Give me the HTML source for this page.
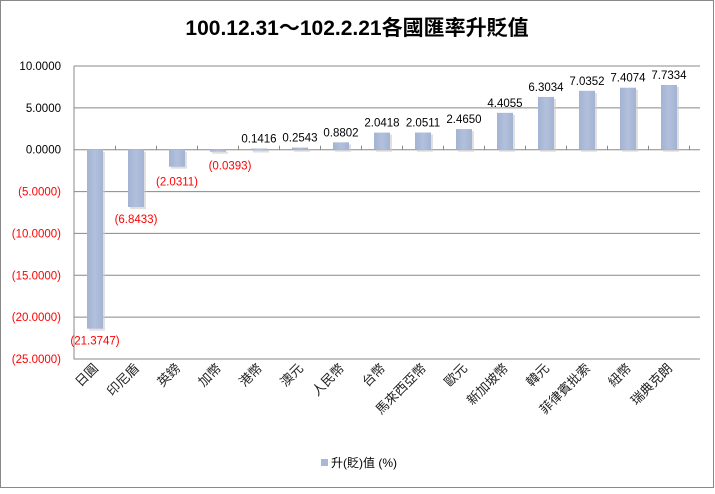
<!DOCTYPE html>
<html><head><meta charset="utf-8"><style>
body{margin:0;background:#fff}
svg text{font-family:"Liberation Sans","Noto Sans CJK TC",sans-serif}
</style></head><body>
<svg id="c" width="715" height="489" viewBox="0 0 715 489" xmlns="http://www.w3.org/2000/svg">
<defs><linearGradient id="g" x1="0" x2="1"><stop offset="0" stop-color="#a3b3d3"/><stop offset="0.5" stop-color="#b2c0dc"/><stop offset="1" stop-color="#a3b3d3"/></linearGradient></defs>
<rect x="0.5" y="0.5" width="713" height="487" fill="#fff" stroke="#888"/>
<text x="357" y="35" text-anchor="middle" font-size="21" font-weight="bold">100.12.31～102.2.21各國匯率升貶值</text>
<g id="plot"></g>
<rect x="321" y="459" width="7" height="7" fill="#a9b8d6"/>
<text x="331" y="467" font-size="12">升(貶)值 (%)</text>
</svg>
<script>
const categories=["日圓","印尼盾","英鎊","加幣","港幣","澳元","人民幣","台幣","馬來西亞幣","歐元","新加坡幣","韓元","菲律賓批索","紐幣","瑞典克朗"];
const values=[-21.3747,-6.8433,-2.0311,-0.0393,0.1416,0.2543,0.8802,2.0418,2.0511,2.4650,4.4055,6.3034,7.0352,7.4074,7.7334];
const ticks=[10,5,0,-5,-10,-15,-20,-25];
const tickLabels=["10.0000","5.0000","0.0000","(5.0000)","(10.0000)","(15.0000)","(20.0000)","(25.0000)"];
const L=74,R=700,T=66,B=359;
const y=v=>T+(10-v)/35*(B-T);
const n=categories.length,bw=41;
const x=i=>L+21+bw*i;
const ns="http://www.w3.org/2000/svg",p=document.getElementById('plot');
function mk(t,a,txt){const e=document.createElementNS(ns,t);for(const k in a)e.setAttribute(k,a[k]);if(txt!=null)e.textContent=txt;p.appendChild(e);return e;}
ticks.forEach((t,i)=>{
 if(t!==0&&t!==-25){const g=mk('line',{x1:L,x2:R,y1:y(t),y2:y(t),stroke:'#888'});}
 const l=mk('text',{x:L-13,y:y(t)+4,'text-anchor':'end','font-size':11.5,fill:t<0?'#f00':'#000'},tickLabels[i]);
 
 
});
const ax=mk('path',{d:`M${L},${T}V${B}H${R}`,fill:'none',stroke:'#888'});


const z=mk('line',{x1:L,x2:R,y1:y(0),y2:y(0),stroke:'#888'});


for(let i=1;i<=n;i++){const tk=mk('line',{x1:x(i)-20.5,x2:x(i)-20.5,y1:y(0)-4,y2:y(0),stroke:'#888'});}
values.forEach((v,i)=>{
 const cx=x(i),y0=y(0),y1=y(v),top=Math.min(y0,y1),h=Math.max(Math.abs(y1-y0),2);
 const s=mk('rect',{x:cx-8+2,y:top+2,width:16,height:h,fill:'#ccc',opacity:0.6});
 
 
 const b=mk('rect',{x:cx-8,y:top,width:16,height:h,fill:'url(#g)'});
 
 
 const lab=v<0?'('+Math.abs(v).toFixed(4)+')':v.toFixed(4);
 const ly=v<0?top+h+16:top-6;
 const t=mk('text',{x:cx,y:ly,'text-anchor':'middle','font-size':11.5,fill:v<0?'#f00':'#000'},lab);
 if(i===3){t.setAttribute('x',cx+12);t.setAttribute('y',y(0)+20);}
 if(i===2){t.setAttribute('y',y(0)+36);}
 
 
 const c=mk('text',{x:cx+4,y:B+10,'text-anchor':'end','font-size':13,fill:'#222',transform:`rotate(-45 ${cx+4} ${B+10})`},categories[i]);
 
 
});
</script>
</body></html>
